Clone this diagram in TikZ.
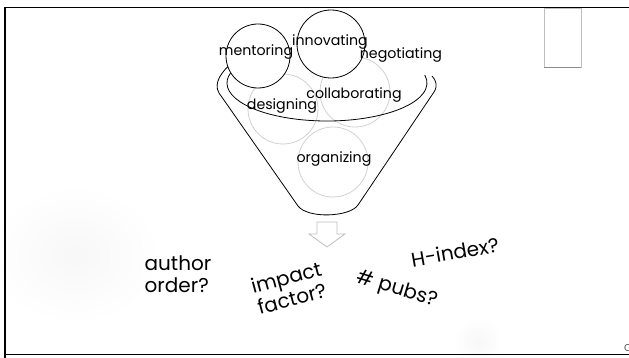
\documentclass[tikz,border=0pt]{standalone}
\usepackage{fontspec}
\setmainfont{Poppins}
\usetikzlibrary{shadings}
\tikzset{
  lbl/.style={inner sep=0pt, font=\fontsize{14.2}{16}\selectfont, text=black},
  big/.style={inner sep=0pt, font=\fontsize{20}{22}\selectfont, text=black, align=center},
  blackc/.style={draw=black, line width=0.8pt, fill=white},
  grayc/.style={draw=black!18, line width=0.8pt},
  funnel/.style={draw=black, line width=0.8pt},
}
\begin{document}
\begin{tikzpicture}[x=1pt,y=-1pt]
\useasboundingbox (0,0) rectangle (629,358);
\fill[white] (0,0) rectangle (629,358);
% faint background blobs
\shade[inner color=black!3, outer color=white] (75,255) ellipse (85 and 70);
\shade[inner color=black!3, outer color=white] (478,342) circle (25);
% frame
\draw[line width=1.6pt] (5,358) -- (5,7.5) -- (629,7.5);
\draw[line width=1.3pt] (5,354.5) -- (629,354.5);
% top right rectangle
\node[draw=black!25, fill=white, line width=0.6pt, minimum width=37pt, minimum height=59pt, inner sep=0pt] (tab) at (562.5,37.5) {};
\draw[black!45, line width=0.8pt] (tab.south west) -- (tab.south east);
% gray circles
\node[grayc, circle, minimum size=70pt, inner sep=0pt] (cd) at (283,109) {};
\node[grayc, circle, minimum size=70pt, inner sep=0pt] (cc) at (355,92) {};
\node[grayc, circle, minimum size=70pt, inner sep=0pt] (co) at (333,162) {};
% funnel
\coordinate (fl0) at (233,62);
\coordinate (fl1) at (219,93);
\coordinate (fb0) at (298,206);
\coordinate (fb1) at (358,205);
\coordinate (fr1) at (434,92);
\coordinate (fr0) at (432,76);
\draw[funnel] (fl0) .. controls (222,71) and (213,83) .. (fl1) -- (fb0)
  .. controls (308,219) and (350,217) .. (fb1) -- (fr1) .. controls (438,86) and (436,80) .. (fr0);
\coordinate (ec) at (327,83);
\draw[funnel] (ec) ++(196:100 and 38) arc[start angle=196, end angle=-12, x radius=100, y radius=38];
% black circles
\node[blackc, circle, minimum size=64pt, inner sep=0pt] (cm) at (258,56) {};
\node[blackc, circle, minimum size=68pt, inner sep=0pt] (ci) at (331,44) {};
% labels
\node[lbl] (tm) at (256,52) {mentoring};
\node[lbl] (ti) at (330,42) {innovating};
\node[lbl] (tn) at (401,55) {negotiating};
\node[lbl] (tc) at (354,95) {collaborating};
\node[lbl] (td) at (282,106) {designing};
\node[lbl] (to) at (334,159) {organizing};
% arrow
\coordinate (arr) at (327,234);
\draw[black!25, line width=0.8pt, fill=white] (317,222) -- (337,222) -- (337,234) -- (345,234) -- (327,247) -- (309,234) -- (317,234) -- cycle;
% bottom questions
\node[big, align=left] (ao) at (178,274) {author\\order?};
\node[big, rotate=15] (if) at (289,288) {impact\\factor?};
\node[big, rotate=-17] (pb) at (397,290) {\# pubs?};
\node[big, rotate=10] (hi) at (455,252) {H-index?};
\node[inner sep=0pt, font=\fontsize{10}{12}\selectfont, text=black!70] (pg) at (628,348) {C};
\end{tikzpicture}
\end{document}
